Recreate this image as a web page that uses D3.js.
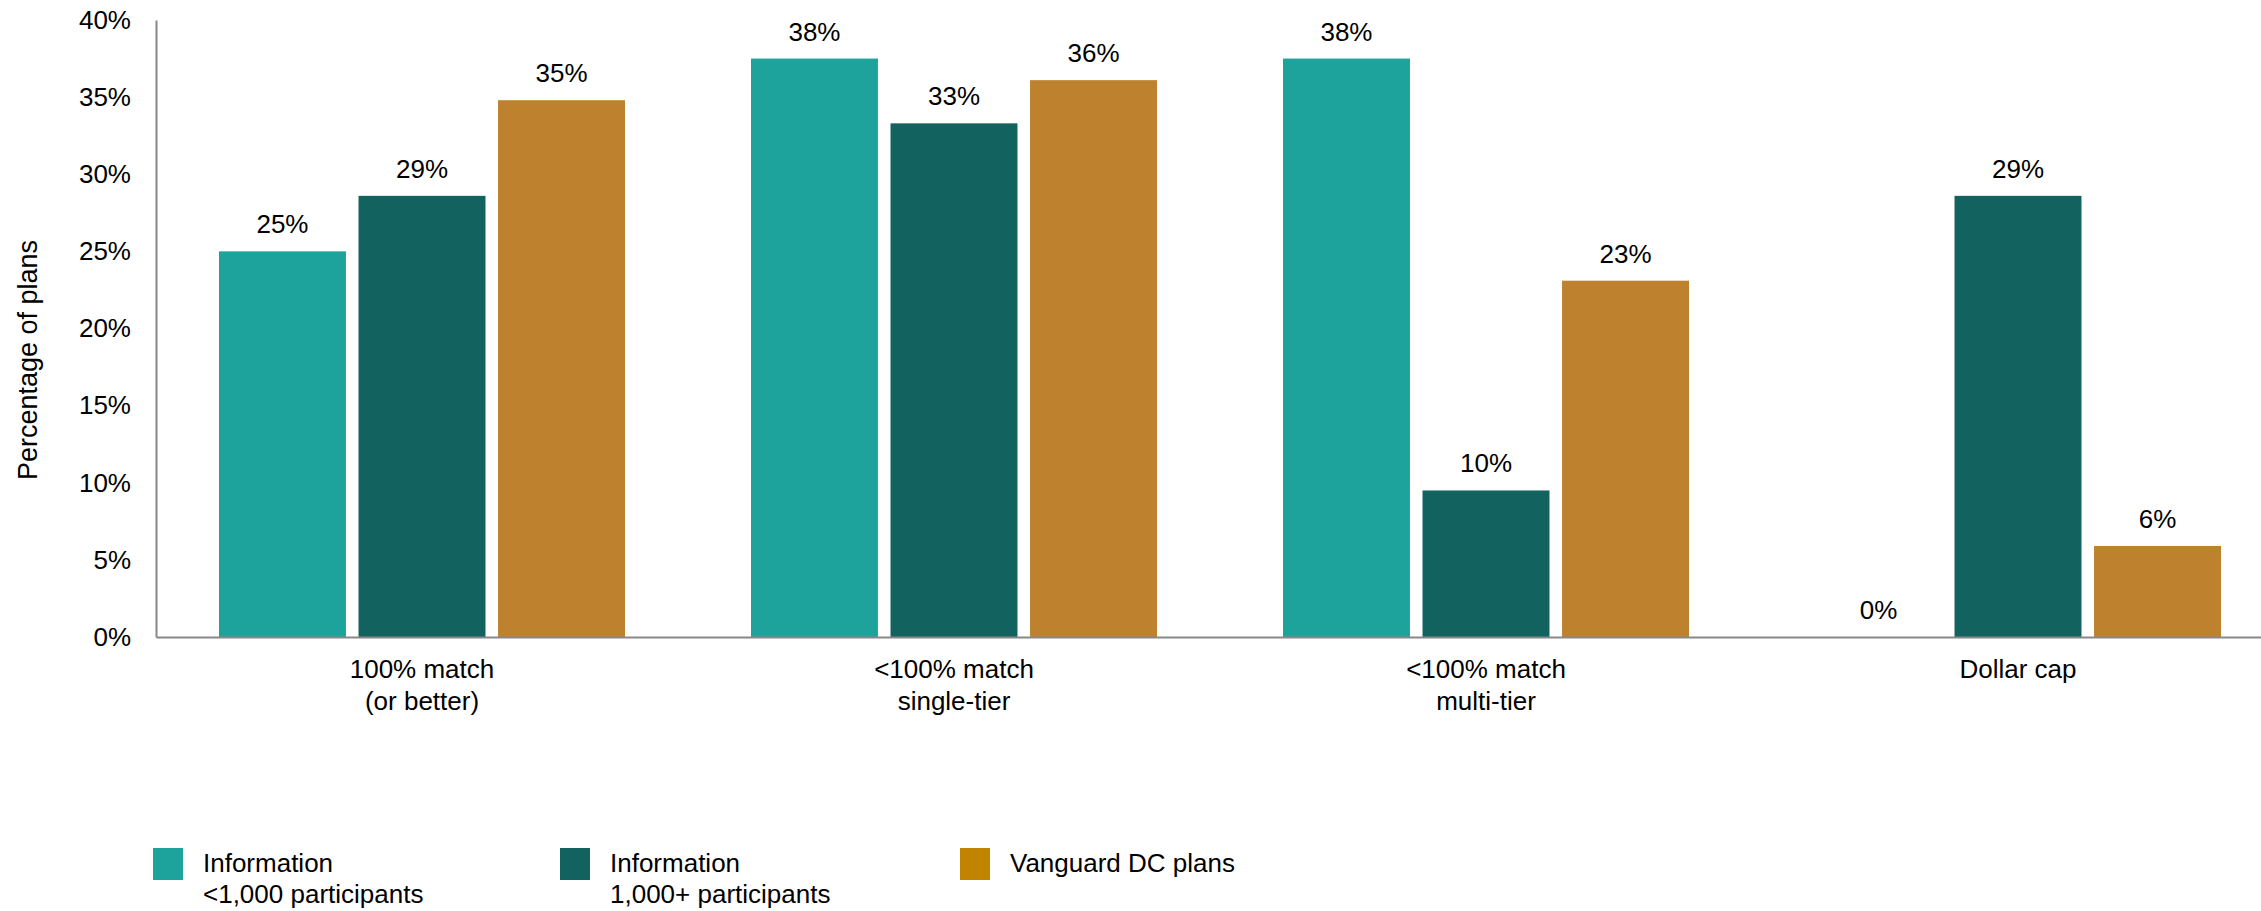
<!DOCTYPE html>
<html>
  <head>
    <meta charset="utf-8">
    <title></title>
    <style>
      body { margin: 0; background: #fff; overflow: hidden; }
      text { font-family: "Liberation Sans", Arial, sans-serif; fill: #000; }
    </style>
  </head>
  <body>
    <div id="chart"></div>
    <script src="https://cdnjs.cloudflare.com/ajax/libs/d3/7.8.5/d3.min.js"></script>
    <script>
      const categories = [["100% match", "(or better)"], ["<100% match", "single-tier"], ["<100% match", "multi-tier"], ["Dollar cap"]]
      const seriesNames = [["Information", "<1,000 participants"], ["Information", "1,000+ participants"], ["Vanguard DC plans"]]
      const small = [25, 37.5, 37.5, 0]
      const large = [28.6, 33.3, 9.5, 28.6]
      const vanguard = [34.8, 36.1, 23.1, 5.9]
      const yTicks = [0, 5, 10, 15, 20, 25, 30, 35, 40]

      const barColors = ['#1da39b', '#12635f', '#be822e']
      const legendColors = ['#1da39b', '#12635f', '#c08400']

      const width = 2261
      const height = 911
      const margin = {top: 20, left: 156, bottom: 274}
      const band = 532

      const svg = d3.select('#chart').append('svg')
                    .attr('width', width)
                    .attr('height', height)

      // plot runs a bit past the right edge, like the original
      const x0 = d3.scaleBand().domain(d3.range(categories.length))
                   .range([margin.left, margin.left + band * categories.length])
      const x1 = d3.scaleBand().domain([0, 1, 2])
                   .range([63, band - 63]).paddingInner(0.09)
      const y = d3.scaleLinear().domain([0, 40]).range([height - margin.bottom, margin.top])

      const rows = categories.map((c, i) => [small[i], large[i], vanguard[i]])

      // bars
      const groups = svg.selectAll('g.grp').data(rows).enter().append('g')
        .attr('transform', (d, i) => `translate(${x0(i)},0)`)

      groups.selectAll('rect').data(d => d).enter().append('rect')
        .attr('x', (d, j) => x1(j))
        .attr('width', x1.bandwidth())
        .attr('y', d => y(d))
        .attr('height', d => y(0) - y(d))
        .attr('fill', (d, j) => barColors[j])

      groups.selectAll('text.val').data(d => d).enter().append('text')
        .attr('class', 'val')
        .attr('x', (d, j) => x1(j) + x1.bandwidth() / 2)
        .attr('y', d => y(d) - 18)
        .attr('text-anchor', 'middle')
        .style('font-size', '26px')
        .text(d => Math.round(d) + '%')

      // y axis
      const yAxis = svg.append('g')
        .attr('transform', `translate(${margin.left},0)`)
        .call(d3.axisLeft(y).tickValues(yTicks).tickSize(0).tickPadding(25).tickFormat(d => d + '%'))
      yAxis.select('.domain').attr('stroke', '#888').attr('stroke-width', 2)
      yAxis.selectAll('text').style('font-size', '26px').style('font-family', '"Liberation Sans", Arial, sans-serif')

      // x axis
      const xAxis = svg.append('g')
        .attr('transform', `translate(0,${y(0)})`)
        .call(d3.axisBottom(x0).tickSize(0).tickFormat(''))
      xAxis.select('.domain').attr('stroke', '#888').attr('stroke-width', 2)

      categories.forEach((lines, i) => {
        const cx = x0(i) + x0.bandwidth() / 2
        const t = svg.append('text')
          .attr('x', cx)
          .attr('y', y(0) + 41)
          .attr('text-anchor', 'middle')
          .style('font-size', '26px')
        lines.forEach((l, k) => t.append('tspan')
          .attr('x', cx)
          .attr('dy', k ? 32 : 0)
          .text(l))
      })

      svg.append('text')
        .attr('transform', `translate(37,360) rotate(-90)`)
        .attr('text-anchor', 'middle')
        .style('font-size', '27px')
        .text('Percentage of plans')

      // legend
      const legendX = [153, 560, 960]
      seriesNames.forEach((lines, i) => {
        svg.append('rect')
          .attr('x', legendX[i]).attr('y', 848)
          .attr('width', 30).attr('height', 32)
          .attr('fill', legendColors[i])
        const t = svg.append('text')
          .attr('x', legendX[i] + 50).attr('y', 872)
          .style('font-size', '26px')
        lines.forEach((l, k) => t.append('tspan')
          .attr('x', legendX[i] + 50)
          .attr('dy', k ? 31 : 0)
          .text(l))
      })
    </script>
  </body>
</html>
